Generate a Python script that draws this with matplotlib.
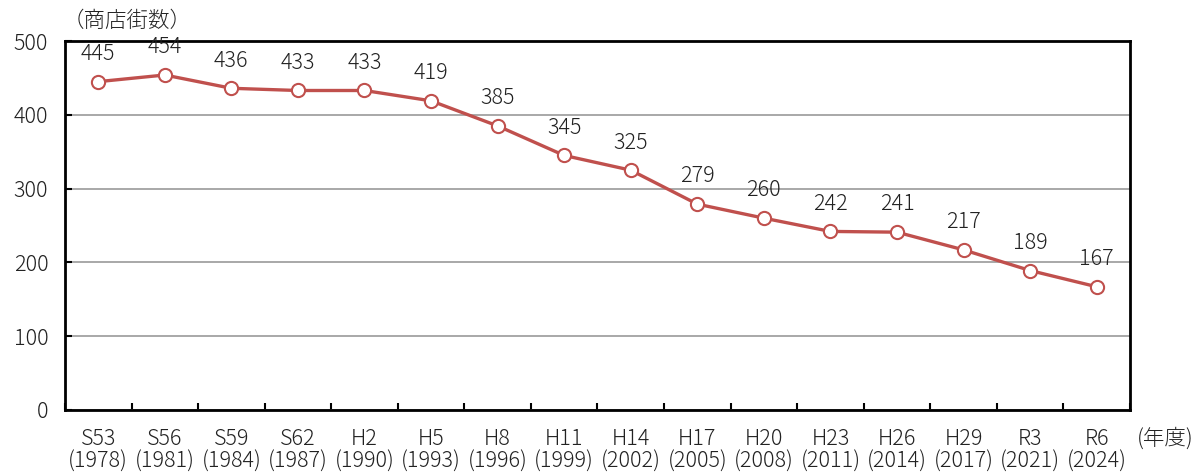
import matplotlib
matplotlib.use("Agg")
import matplotlib.pyplot as plt
from matplotlib.ticker import FixedLocator, NullFormatter

plt.rcParams['font.family'] = ['Noto Sans CJK JP', 'DejaVu Sans']
plt.rcParams['font.weight'] = 'light'

# 年度と商店街数
era = ['S53', 'S56', 'S59', 'S62', 'H2', 'H5', 'H8', 'H11', 'H14', 'H17',
       'H20', 'H23', 'H26', 'H29', 'R3', 'R6']
year = ['1978', '1981', '1984', '1987', '1990', '1993', '1996', '1999', '2002',
        '2005', '2008', '2011', '2014', '2017', '2021', '2024']
counts = [445, 454, 436, 433, 433, 419, 385, 345, 325, 279, 260, 242, 241, 217, 189, 167]

red = '#C0504D'
fs = 15.5
txt = '#222222'

fig = plt.figure(figsize=(11.96, 4.72), dpi=100)
ax = fig.add_axes([0.0543, 0.1314, 0.8905, 0.7816])

x = list(range(len(counts)))
ax.plot(x, counts, color=red, lw=2.4, marker='o', ms=9.5,
        mfc='white', mec=red, mew=1.5, zorder=3)

for xi, v in zip(x, counts):
    ax.annotate(str(v), (xi, v), xytext=(0, 12), textcoords='offset points',
                ha='center', va='bottom', fontsize=fs, color=txt)

ax.set_xlim(-0.5, len(counts) - 0.5)
ax.set_ylim(0, 500)
ax.set_yticks(range(0, 501, 100))
ax.tick_params(axis='y', direction='in', length=5, width=1.5, labelsize=fs,
               pad=12, colors='black', labelcolor=txt)
ax.yaxis.grid(True, color='#999999', lw=1.2)
ax.set_axisbelow(True)

ax.xaxis.set_major_locator(FixedLocator([i - 0.5 for i in range(len(counts) + 1)]))
ax.xaxis.set_major_formatter(NullFormatter())
ax.tick_params(axis='x', direction='in', length=5, width=1.5)
ax.set_xticks(x, minor=True)
ax.set_xticklabels([f'{e}\n({y})' for e, y in zip(era, year)], minor=True,
                   fontsize=fs, linespacing=1.05, color=txt)
ax.tick_params(axis='x', which='minor', length=0, pad=13)

for s in ax.spines.values():
    s.set_linewidth(2)
    s.set_color('black')

fig.text(0.052, 0.955, '（商店街数）', fontsize=fs, ha='left', va='center', color=txt)
fig.text(0.998, 0.070, '(年度)', fontsize=fs, ha='right', va='center', color=txt)

fig.savefig('out.png', dpi=100)
